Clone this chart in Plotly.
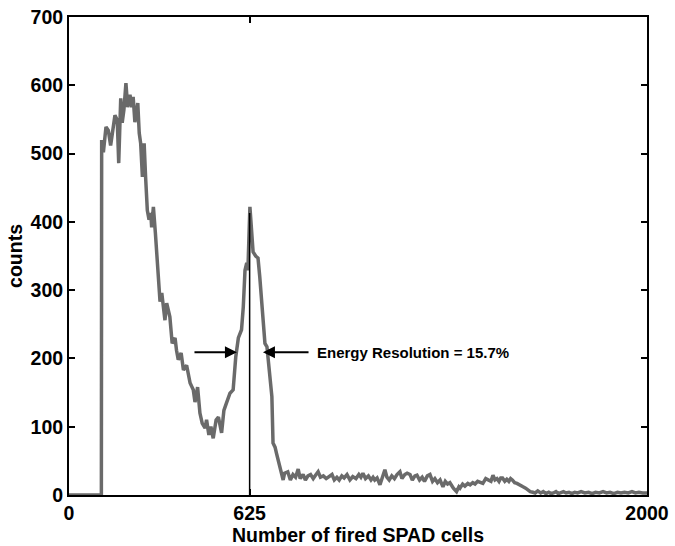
import plotly.graph_objects as go

# Spectrum
cells = [0, 112, 113, 119, 128, 136, 144, 151, 159, 167, 172, 179, 184, 190, 197, 203, 211, 217,
         222, 228, 238, 243, 248, 254, 260, 265, 271, 277, 283, 286, 292, 299, 303, 309, 315, 321,
         332, 338, 349, 357, 367, 372, 378, 388, 396, 407, 419, 430, 436, 445, 453, 461, 471, 476,
         484, 491, 499, 509, 517, 528, 536, 545, 557, 568, 577, 586, 597, 603, 609, 615, 619, 626,
         637, 646, 654, 660, 671, 678, 685, 693, 702, 706, 713, 718, 730, 741, 746,
         757, 766, 775, 784, 793, 800, 810, 818, 827, 836, 845, 853, 862, 870, 880, 890, 901, 910,
         918, 927, 935, 944, 952, 962, 972, 982, 993, 1003, 1010, 1017, 1026, 1036, 1045, 1052,
         1058, 1066, 1076, 1084, 1093, 1100, 1108, 1117, 1126, 1135, 1145, 1152, 1162, 1170, 1180,
         1188, 1197, 1204, 1213, 1222, 1230, 1240, 1249, 1258, 1266, 1275, 1284, 1294, 1302, 1310,
         1318, 1330, 1341, 1349, 1353, 1362, 1370, 1380, 1388, 1397, 1405, 1414, 1422, 1432, 1442,
         1453, 1460, 1467, 1474, 1481, 1488, 1494, 1500, 1508, 1515, 1522, 1528, 1534, 1542, 1550,
         1557, 1564, 1571, 1580, 1588, 1596, 1605, 1613, 1622, 1632, 1641, 1650, 1660, 1668, 1676,
         1685, 1693, 1702, 1711, 1720, 1730, 1740, 1750, 1760, 1772, 1785, 1798, 1810, 1822, 1835,
         1848, 1860, 1872, 1885, 1898, 1910, 1922, 1935, 1948, 1960, 1972, 1985, 2000]
counts = [0, 0, 520, 502, 539, 534, 512, 530, 556, 549, 486, 581, 545, 564, 603, 568, 586, 568,
          583, 546, 574, 530, 515, 466, 515, 466, 417, 403, 413, 392, 422, 383, 359, 315, 283, 296,
          256, 281, 261, 222, 230, 212, 198, 208, 183, 190, 164, 154, 136, 158, 120, 105, 98, 110,
          88, 100, 83, 110, 114, 91, 124, 135, 149, 154, 202, 230, 242, 275, 329, 340, 329, 422,
          356, 350, 347, 320, 252, 222, 217, 180, 144, 76, 70, 61, 41, 22, 32,
          34, 22, 30, 26, 38, 24, 30, 22, 28, 30, 24, 29, 34, 26, 28, 24, 27, 30,
          22, 26, 22, 28, 25, 30, 22, 27, 24, 30, 26, 32, 24, 28, 22, 26,
          22, 25, 15, 24, 37, 26, 22, 28, 24, 30, 34, 24, 30, 32, 30,
          22, 28, 29, 22, 26, 20, 28, 30, 20, 24, 18, 22, 12, 20, 16,
          18, 10, 5, 12, 10, 16, 13, 17, 15, 18, 16, 20, 19, 17, 24,
          22, 20, 29, 22, 24, 20, 25, 25, 20, 23, 20, 24, 22, 18, 17,
          15, 14, 12, 10, 7, 5, 4, 3, 6, 3, 5, 2, 4, 2, 3,
          5, 2, 3, 5, 3, 4, 2, 4, 3, 5, 3, 4, 2, 4, 3,
          5, 3, 4, 2, 4, 3, 4, 3, 5, 3, 4, 3, 3]

x_ticks = [0, 625, 2000]
y_ticks = [0, 100, 200, 300, 400, 500, 600, 700]
peak_cell = 625
peak_count = 413
fwhm_level = 209
left_arrow = (429, 581)    # tail, head
right_arrow = (834, 671)   # tail, head
note_text = "Energy Resolution = 15.7%"
note_x = 851

FONT = "Liberation Sans"

fig = go.Figure()
fig.add_trace(go.Scatter(x=cells, y=counts, mode="lines",
                         line=dict(color="#6a6a6a", width=3.5), showlegend=False,
                         hoverinfo="skip"))

fig.add_shape(type="line", x0=peak_cell, x1=peak_cell, y0=0, y1=peak_count,
              xref="x", yref="y", line=dict(color="black", width=1.5))

for tail, head in (left_arrow, right_arrow):
    fig.add_annotation(x=head, y=fwhm_level, ax=tail, ay=fwhm_level, xref="x", yref="y",
                       axref="x", ayref="y", text="", showarrow=True, arrowhead=2,
                       arrowsize=1.2, arrowwidth=2, arrowcolor="black", standoff=0)

fig.add_annotation(x=note_x, y=fwhm_level, xref="x", yref="y", text=note_text,
                   showarrow=False, xanchor="left", yanchor="middle",
                   font=dict(family=FONT, size=15, color="black", weight="bold"))

axis_common = dict(showline=True, linewidth=2, linecolor="black", mirror="ticks",
                   ticks="inside", ticklen=6, tickwidth=2, tickcolor="black",
                   showgrid=False, zeroline=False, automargin=False,
                   tickfont=dict(family=FONT, size=19.5, color="black", weight="bold"))

fig.update_xaxes(range=[0, 2000], tickvals=x_ticks, ticktext=[str(v) for v in x_ticks],
                 title=dict(text="Number of fired SPAD cells", standoff=0,
                            font=dict(family=FONT, size=19.5, color="black", weight="bold")),
                 **axis_common)
fig.update_yaxes(range=[0, 700], tickvals=y_ticks, ticktext=[str(v) for v in y_ticks],
                 title=dict(text="counts", standoff=3,
                            font=dict(family=FONT, size=19.5, color="black", weight="bold")),
                 **axis_common)

fig.update_layout(width=675, height=546, margin=dict(l=69, r=28, t=17, b=51),
                  plot_bgcolor="white", paper_bgcolor="white")

fig.write_html("out.html")
